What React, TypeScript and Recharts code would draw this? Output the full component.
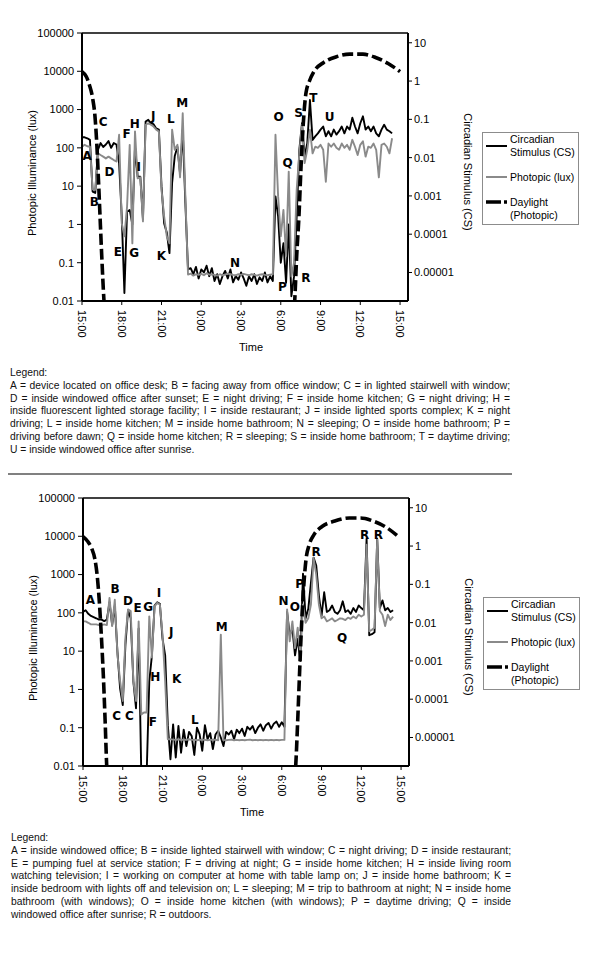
import React from "react";
import {
  ComposedChart,
  Line,
  XAxis,
  YAxis,
  ReferenceLine,
  ReferenceDot,
} from "recharts";

const FONT = "Arial, 'Liberation Sans', Helvetica, sans-serif";
const NOTE_FONT = "'DejaVu Sans', Verdana, sans-serif";

// hours after 15:00 (shared sampling grid for both recordings)
const hours = [
  0, 0.2, 0.4, 0.6, 0.8, 1, 1.2, 1.4, 1.6, 1.8,
  2, 2.2, 2.4, 2.6, 2.8, 3, 3.2, 3.4, 3.6, 3.8,
  4, 4.2, 4.4, 4.6, 4.8, 5, 5.2, 5.4, 5.6, 5.8,
  6, 6.2, 6.4, 6.6, 6.8, 7, 7.2, 7.4, 7.6, 7.8,
  8, 8.2, 8.4, 8.6, 8.8, 9, 9.2, 9.4, 9.6, 9.8,
  10, 10.2, 10.4, 10.6, 10.8, 11, 11.2, 11.4, 11.6, 11.8,
  12, 12.2, 12.4, 12.6, 12.8, 13, 13.2, 13.4, 13.6, 13.8,
  14, 14.2, 14.4, 14.6, 14.8, 15, 15.2, 15.4, 15.6, 15.8,
  16, 16.2, 16.4, 16.6, 16.8, 17, 17.2, 17.4, 17.6, 17.8,
  18, 18.2, 18.4, 18.6, 18.8, 19, 19.2, 19.4, 19.6, 19.8,
  20, 20.2, 20.4, 20.6, 20.8, 21, 21.2, 21.4, 21.6, 21.8,
  22, 22.2, 22.4, 22.6, 22.8, 23, 23.2, 23.4,
];

// ---- top recording ----
const photopicA = [
  107, 120, 110, 107, 8.3, 8, 72, 65, 59, 53,
  59, 53, 48, 44, 220, 1.07, 0.49, 2.9, 120, 0.32,
  270, 16, 17, 1.2, 400, 440, 400, 360, 300, 270,
  8, 1.6, 0.49, 0.32, 300, 89, 120, 17, 800, 5.4,
  0.049, 0.052, 0.046, 0.05, 0.048, 0.051, 0.047, 0.053, 0.049, 0.05,
  0.048, 0.046, 0.05, 0.047, 0.049, 0.052, 0.05, 0.048, 0.047, 0.05,
  0.048, 0.051, 0.049, 0.047, 0.05, 0.048, 0.046, 0.049, 0.05, 0.048,
  0.047, 0.049, 0.05, 220, 5.4, 0.49, 2.4, 0.15, 24, 0.044,
  0.1, 8, 72, 400, 40, 89, 300, 72, 107, 100,
  120, 89, 13, 130, 107, 130, 100, 89, 130, 100,
  120, 89, 162, 107, 65, 120, 148, 59, 107, 100,
  130, 89, 17, 120, 130, 107, 72, 178,
];

const circadianA = [
  0.034, 0.034, 0.032, 0.029, 0.0013, 0.0012, 0.016, 0.024, 0.019, 0.022,
  0.027, 0.018, 0.024, 0.022, 0.0072, 0.00029, 2.9e-6, 0.00039, 0.00043, 0.00018,
  0.019, 0.0032, 0.0032, 0.00025, 0.088, 0.097, 0.079, 0.075, 0.058, 0.054,
  0.0018, 0.00019, 0.00011, 3.2e-5, 0.0022, 0.011, 0.019, 0.0039, 0.054, 0.00065,
  1.2e-5, 1.3e-5, 9e-6, 1.4e-5, 7e-6, 1.2e-5, 1e-5, 1.5e-5, 8e-6, 1.3e-5,
  6e-6, 9e-6, 5e-6, 8e-6, 1.1e-5, 7e-6, 1.2e-5, 5.5e-6, 8e-6, 6.5e-6,
  1e-5, 7e-6, 4.5e-6, 8e-6, 6e-6, 9e-6, 5e-6, 7.5e-6, 6e-6, 1e-5,
  5.5e-6, 8e-6, 6e-6, 0.00097, 0.00029, 1.8e-5, 5.8e-5, 5.4e-6, 0.00018, 2.4e-6,
  7.9e-6, 0.00029, 0.016, 0.079, 0.011, 0.024, 0.32, 0.029, 0.036, 0.043,
  0.054, 0.065, 0.036, 0.049, 0.036, 0.054, 0.04, 0.049, 0.065, 0.043,
  0.065, 0.054, 0.11, 0.065, 0.043, 0.079, 0.12, 0.054, 0.065, 0.049,
  0.065, 0.043, 0.036, 0.054, 0.072, 0.054, 0.049, 0.043,
];

const daylightHoursA = [
  0, 0.32, 0.56, 0.8, 0.98, 1.1, 1.22, 1.34, 1.49, 1.66, 1.75, 8,
  15.9, 16.05, 16.2, 16.37, 16.54, 16.7, 16.9, 17.15, 17.5, 18.24,
  19.2, 20.2, 21.2, 22.15, 23.1, 24,
];
const daylightLuxA = [
  9800, 7300, 4400, 2000, 660, 160, 22, 2.4, 0.15, 0.01, 0.004, null,
  0.003, 0.01, 0.15, 1.6, 40, 440, 2700, 5400, 9800, 17000,
  24000, 28000, 28000, 23000, 16000, 9800,
];

const lettersA = ["A", "B", "C", "D", "E", "F", "G", "H", "I", "J", "K", "L", "M", "N", "O", "P", "Q", "R", "S", "T", "U"];
const noteHoursA = [0.39, 0.93, 1.59, 2.07, 2.71, 3.37, 3.93, 3.98, 4.29, 5.37, 6.0, 6.71, 7.56, 11.54, 14.83, 15.12, 15.51, 16.9, 16.34, 17.46, 18.68];
const noteLuxA = [62, 4, 490, 24, 0.19, 230, 0.18, 417, 32, 676, 0.15, 562, 1510, 0.1, 631, 0.024, 42, 0.04, 830, 2000, 660];

const legendLinesA = [
  "A = device located on office desk; B = facing away from office window; C = in lighted stairwell with window;",
  "D = inside windowed office after sunset; E = night driving; F = inside home kitchen; G = night driving; H =",
  "inside fluorescent lighted storage facility; I = inside restaurant; J = inside lighted sports complex; K = night",
  "driving; L = inside home kitchen; M = inside home bathroom; N = sleeping; O = inside home bathroom; P =",
  "driving before dawn; Q = inside home kitchen; R = sleeping; S = inside home bathroom; T = daytime driving;",
  "U = inside windowed office after sunrise.",
];

// ---- bottom recording ----
const photopicB = [
  60, 60, 55, 50, 50, 50, 48, 48, 50, 48,
  245, 45, 220, 8.2, 1.65, 0.5, 22, 123, 112, 1.65,
  0.5, 60, 0.22, 0.25, 0.25, 81, 6.8, 148, 183, 165,
  27, 1.65, 0.05, 0.05, 0.049, 0.048, 0.05, 0.048, 0.049, 0.048,
  0.05, 0.048, 0.049, 0.047, 0.048, 0.049, 0.048, 0.047, 0.048, 0.049,
  0.048, 0.047, 27, 0.048, 0.047, 0.048, 0.049, 0.047, 0.048, 0.047,
  0.048, 0.047, 0.048, 0.049, 0.047, 0.048, 0.047, 0.048, 0.047, 0.048,
  0.047, 0.048, 0.047, 0.048, 0.047, 0.048, 0.048, 123, 18, 60,
  12, 41, 8.2, 165, 55, 72, 165, 2700, 1000, 165,
  72, 80, 60, 65, 72, 60, 65, 72, 70, 65,
  75, 70, 80, 72, 89, 80, 89, 6000, 33, 36,
  41, 8100, 112, 89, 45, 89, 65, 80,
];

const circadianB = [
  0.019, 0.021, 0.017, 0.015, 0.014, 0.013, 0.012, 0.012, 0.011, 0.012,
  0.034, 0.0087, 0.028, 0.0017, 0.00019, 7e-5, 0.0026, 0.021, 0.013, 0.00029,
  5.8e-5, 0.007, 1e-6, 1e-6, 1e-6, 0.00029, 0.0014, 0.028, 0.034, 0.031,
  0.0038, 0.0014, 2.1e-5, 2.7e-6, 2.2e-5, 3e-6, 2e-5, 4e-6, 1.6e-5, 6e-6,
  1.4e-5, 1.1e-5, 3.5e-6, 1.8e-5, 1.2e-5, 4.5e-6, 2.1e-5, 9e-6, 1.3e-5, 5e-6,
  1.2e-5, 1.5e-5, 1e-5, 6e-6, 1.4e-5, 1.2e-5, 1.5e-5, 9e-6, 1.6e-5, 1.3e-5,
  1.7e-5, 1.1e-5, 1.9e-5, 1.6e-5, 2e-5, 1.3e-5, 1.8e-5, 2.2e-5, 1.5e-5, 2.1e-5,
  2.4e-5, 1.7e-5, 2.3e-5, 2.6e-5, 1.9e-5, 2.5e-5, 1.9e-5, 0.019, 0.0047, 0.007,
  0.0014, 0.0038, 0.001, 0.19, 0.013, 0.023, 0.11, 0.5, 0.31, 0.051,
  0.015, 0.062, 0.019, 0.021, 0.028, 0.019, 0.017, 0.021, 0.036, 0.019,
  0.021, 0.017, 0.024, 0.019, 0.028, 0.024, 0.021, 1.55, 0.0047, 0.005,
  0.0056, 1.55, 0.024, 0.038, 0.021, 0.024, 0.019, 0.021,
];

const daylightHoursB = [
  0, 0.36, 0.65, 0.9, 1.09, 1.23, 1.38, 1.53, 1.67, 1.79, 1.86, 8,
  15.95, 16.05, 16.2, 16.32, 16.46, 16.63, 16.83, 17.07, 17.43, 18.04,
  19.0, 20.1, 20.94, 21.9, 22.9, 23.8,
];
const daylightLuxB = [
  9800, 7300, 4900, 2500, 810, 200, 27, 2.5, 0.15, 0.01, 0.004, null,
  0.004, 0.01, 0.15, 1.7, 27, 360, 2500, 6000, 11000, 18000,
  25000, 30000, 30000, 25000, 17000, 9800,
];

const lettersB = ["A", "B", "C", "C", "D", "E", "F", "G", "H", "I", "J", "K", "L", "M", "N", "O", "P", "Q", "R", "R", "R"];
const noteHoursB = [0.56, 2.42, 2.54, 3.51, 3.39, 4.12, 5.28, 4.92, 5.45, 5.74, 6.66, 7.07, 8.43, 10.46, 15.13, 15.98, 16.34, 19.56, 17.6, 21.26, 22.28];
const noteLuxB = [224, 417, 0.21, 0.21, 209, 135, 0.14, 148, 2.1, 331, 33, 1.9, 0.16, 43, 209, 148, 562, 22, 4000, 11200, 11200];

const legendLinesB = [
  "A = inside windowed office; B = inside lighted stairwell with window; C = night driving; D = inside restaurant;",
  "E = pumping fuel at service station; F = driving at night; G = inside home kitchen; H = inside living room",
  "watching television; I = working on computer at home with table lamp on; J = inside home bathroom; K =",
  "inside bedroom with lights off and television on; L = sleeping; M = trip to bathroom at night; N = inside home",
  "bathroom (with windows); O = inside home kitchen (with windows); P = daytime driving; Q = inside",
  "windowed office after sunrise; R = outdoors.",
];

// ---- axes ----
const hourTicks = [0, 3, 6, 9, 12, 15, 18, 21, 24];
const hourLabels = ["15:00", "18:00", "21:00", "0:00", "3:00", "6:00", "9:00", "12:00", "15:00"];
const luxTicks = [0.01, 0.1, 1, 10, 100, 1000, 10000, 100000];
const luxLabels = ["0.01", "0.1", "1", "10", "100", "1000", "10000", "100000"];
const csTicks = [0.00001, 0.0001, 0.001, 0.01, 0.1, 1, 10];
const csLabels = ["0.00001", "0.0001", "0.001", "0.01", "0.1", "1", "10"];

const HourTick = (props: any) => {
  const { x, y, payload } = props;
  const label = hourLabels[hourTicks.indexOf(payload.value)];
  return (
    <text
      transform={`translate(${x},${y + 3}) rotate(90)`}
      dy="0.35em"
      textAnchor="start"
      fontSize={11}
      fontFamily={FONT}
      fill="#000"
    >
      {label}
    </text>
  );
};

function KeyBox() {
  return (
    <div
      style={{
        position: "absolute",
        left: 482,
        top: 132,
        width: 95,
        height: 91,
        border: "1px solid #8c8c8c",
        background: "#fff",
        fontSize: 10.5,
        lineHeight: "13px",
        color: "#000",
      }}
    >
      <svg style={{ position: "absolute", left: 0, top: 0 }} width={26} height={91}>
        <line x1={3} x2={24} y1={13} y2={13} stroke="#000" strokeWidth={2} />
        <line x1={3} x2={24} y1={44} y2={44} stroke="#8a8a8a" strokeWidth={2} />
        <line x1={3} x2={24} y1={69} y2={69} stroke="#000" strokeWidth={3.6} strokeDasharray="15 3 3 10" />
      </svg>
      <div style={{ position: "absolute", left: 27, top: 0, whiteSpace: "nowrap" }}>
        Circadian
        <br />
        Stimulus (CS)
      </div>
      <div style={{ position: "absolute", left: 27, top: 38, whiteSpace: "nowrap" }}>Photopic (lux)</div>
      <div style={{ position: "absolute", left: 27, top: 63, whiteSpace: "nowrap" }}>
        Daylight
        <br />
        (Photopic)
      </div>
    </div>
  );
}

type PanelProps = {
  top: number;
  left: number;
  photopic: number[];
  circadian: number[];
  dayHours: number[];
  dayLux: (number | null)[];
  letters: string[];
  noteHours: number[];
  noteLux: number[];
  legendLines: string[];
};

function Panel({ top, left, photopic, circadian, dayHours, dayLux, letters, noteHours, noteLux, legendLines }: PanelProps) {
  const series = hours.map((t, i) => ({ t, lux: photopic[i], cs: circadian[i] }));
  const daylight = dayHours.map((t, i) => ({ t, day: dayLux[i] }));
  const axisLine = { stroke: "#000", strokeWidth: 2 };
  const tickStyle = { fontSize: 11, fill: "#000", fontFamily: FONT };

  return (
    <div style={{ position: "absolute", left, top, width: 600, height: 465 }}>
      <ComposedChart width={600} height={360} margin={{ top: 33, right: 132, bottom: 14, left: 0 }}>
        <XAxis
          type="number"
          dataKey="t"
          domain={[0, 24.6]}
          allowDataOverflow
          ticks={hourTicks}
          interval={0}
          tick={<HourTick />}
          tickSize={4}
          height={45}
          axisLine={axisLine}
          tickLine={{ stroke: "#000" }}
        />
        <YAxis
          yAxisId="lux"
          scale="log"
          domain={[0.01, 100000]}
          allowDataOverflow
          ticks={luxTicks}
          interval={0}
          width={82}
          tickSize={5}
          tickMargin={3}
          tick={tickStyle}
          tickFormatter={(v: number) => luxLabels[luxTicks.indexOf(v)]}
          axisLine={axisLine}
          tickLine={{ stroke: "#000" }}
        />
        <YAxis
          yAxisId="cs"
          orientation="right"
          scale="log"
          domain={[1.8e-6, 18]}
          allowDataOverflow
          ticks={csTicks}
          interval={0}
          width={60}
          tickSize={4}
          tickMargin={2}
          tick={tickStyle}
          tickFormatter={(v: number) => csLabels[csTicks.indexOf(v)]}
          axisLine={axisLine}
          tickLine={{ stroke: "#000" }}
        />
        <ReferenceLine yAxisId="lux" y={100000} stroke="#000" strokeWidth={1.5} />
        <Line
          yAxisId="cs"
          data={series}
          dataKey="cs"
          type="linear"
          stroke="#000"
          strokeWidth={1.9}
          strokeLinejoin="round"
          dot={false}
          isAnimationActive={false}
        />
        <Line
          yAxisId="lux"
          data={series}
          dataKey="lux"
          type="linear"
          stroke="#8a8a8a"
          strokeWidth={1.9}
          strokeLinejoin="round"
          dot={false}
          isAnimationActive={false}
        />
        <Line
          yAxisId="lux"
          data={daylight}
          dataKey="day"
          type="monotone"
          stroke="#000"
          strokeWidth={3.6}
          strokeDasharray="11 4"
          connectNulls={false}
          dot={false}
          isAnimationActive={false}
        />
        {letters.map((letter, i) => (
          <ReferenceDot
            key={`note-${i}`}
            yAxisId="lux"
            x={noteHours[i]}
            y={noteLux[i]}
            r={0}
            fill="none"
            stroke="none"
            label={{
              value: letter,
              position: "center",
              fill: "#000",
              fontSize: 12,
              fontWeight: 700,
              fontFamily: NOTE_FONT,
            }}
          />
        ))}
      </ComposedChart>

      <div
        style={{
          position: "absolute",
          left: 32,
          top: 173,
          transform: "translate(-50%, -50%) rotate(-90deg)",
          fontSize: 11,
          whiteSpace: "nowrap",
        }}
      >
        Photopic Illuminance (lux)
      </div>
      <div
        style={{
          position: "absolute",
          left: 468,
          top: 172,
          transform: "translate(-50%, -50%) rotate(90deg)",
          fontSize: 11,
          whiteSpace: "nowrap",
        }}
      >
        Circadian Stimulus (CS)
      </div>
      <div
        style={{
          position: "absolute",
          left: 251,
          top: 347,
          transform: "translate(-50%, -50%)",
          fontSize: 11,
          whiteSpace: "nowrap",
        }}
      >
        Time
      </div>
      <KeyBox />

      <div style={{ position: "absolute", left: 10, top: 367, width: 500, fontSize: 10.3, lineHeight: "12.8px", color: "#111" }}>
        <div>Legend:</div>
        {legendLines.map((line, i) => (
          <div
            key={`line-${i}`}
            style={{
              whiteSpace: "nowrap",
              textAlign: i === legendLines.length - 1 ? "left" : "justify",
              textAlignLast: i === legendLines.length - 1 ? "left" : "justify",
            }}
          >
            {line}
          </div>
        ))}
      </div>
    </div>
  );
}

export default function App() {
  return (
    <div
      style={{
        position: "absolute",
        left: 0,
        top: 0,
        width: 600,
        height: 961,
        background: "#fff",
        fontFamily: FONT,
        color: "#000",
        overflow: "hidden",
      }}
    >
      <Panel
        top={0}
        left={0}
        photopic={photopicA}
        circadian={circadianA}
        dayHours={daylightHoursA}
        dayLux={daylightLuxA}
        letters={lettersA}
        noteHours={noteHoursA}
        noteLux={noteLuxA}
        legendLines={legendLinesA}
      />
      <div style={{ position: "absolute", left: 8, top: 473, width: 504, height: 2, background: "#808080" }} />
      <Panel
        top={465}
        left={1}
        photopic={photopicB}
        circadian={circadianB}
        dayHours={daylightHoursB}
        dayLux={daylightLuxB}
        letters={lettersB}
        noteHours={noteHoursB}
        noteLux={noteLuxB}
        legendLines={legendLinesB}
      />
    </div>
  );
}
